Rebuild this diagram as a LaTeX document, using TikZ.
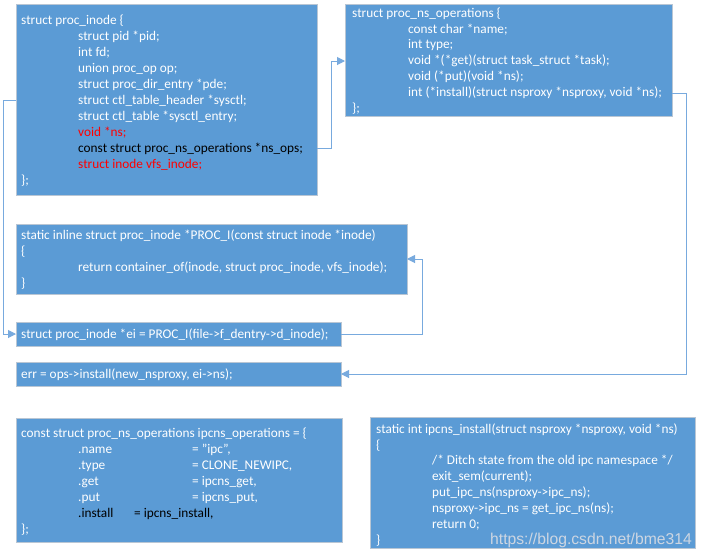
\documentclass[tikz,border=0pt]{standalone}
\usepackage{fontspec}
\setmainfont{Carlito}
\newfontfamily\wmfont{Liberation Sans}
\usetikzlibrary{arrows.meta}
\definecolor{boxblue}{RGB}{91,155,213}
\definecolor{boxedge}{RGB}{185,198,212}
\definecolor{connblue}{RGB}{120,170,222}
\definecolor{wmgray}{RGB}{205,214,226}
\definecolor{codered}{RGB}{255,0,0}
\newcommand\codeind{\hspace*{57pt}}
\newcommand\firststrut{\rule{0pt}{12pt}}
\begin{document}
\begin{tikzpicture}[x=1pt,y=-1pt,
  codebox/.style={draw=boxedge, line width=0.8pt, fill=boxblue, anchor=north west, inner sep=0pt, outer sep=0pt},
  codetext/.style={anchor=north west, inner sep=0pt, align=left, text=white, font={\fontsize{13.3}{16}\selectfont}},
  conn/.style={draw=connblue, line width=1pt, -{Triangle[length=8pt,width=8pt]}}]
\useasboundingbox (0,0) rectangle (702,558);
\fill[white] (0,0) rectangle (702,558);
% boxes
\node[codebox, minimum width=301pt, minimum height=191pt] (b1) at (16,4) {};
\node[codebox, minimum width=327pt, minimum height=112pt] (b2) at (345,4) {};
\node[codebox, minimum width=391pt, minimum height=70pt] (b3) at (16,224) {};
\node[codebox, minimum width=325pt, minimum height=24pt] (b4) at (16,322) {};
\node[codebox, minimum width=325pt, minimum height=24pt] (b5) at (16,362) {};
\node[codebox, minimum width=326pt, minimum height=124pt] (b6) at (16,418) {};
\node[codebox, minimum width=325pt, minimum height=131pt] (b7) at (370,417) {};
% texts
\node[codetext] (t1) at (21,12) {\firststrut struct proc\_inode \{\\
\codeind struct pid *pid;\\
\codeind int fd;\\
\codeind union proc\_op op;\\
\codeind struct proc\_dir\_entry *pde;\\
\codeind struct ctl\_table\_header *sysctl;\\
\codeind struct ctl\_table *sysctl\_entry;\\
\codeind {\color{codered}void *ns;}\\
\codeind {\color{black}const struct proc\_ns\_operations *ns\_ops;}\\
\codeind {\color{codered}struct inode vfs\_inode;}\\
\};};
\node[codetext, font={\fontsize{13.3}{15.85}\selectfont}] (t2) at (352,5) {\firststrut struct proc\_ns\_operations \{\\
\hspace*{56pt}const char *name;\\
\hspace*{56pt}int type;\\
\hspace*{56pt}void *(*get)(struct task\_struct *task);\\
\hspace*{56pt}void (*put)(void *ns);\\
\hspace*{56pt}int (*install)(struct nsproxy *nsproxy, void *ns);\\
\};};
\node[codetext] (t3) at (21,227) {\firststrut static inline struct proc\_inode *PROC\_I(const struct inode *inode)\\
\{\\
\codeind return container\_of(inode, struct proc\_inode, vfs\_inode);\\
\}};
\node[codetext] (t4) at (21,326) {\firststrut struct proc\_inode *ei = PROC\_I(file->f\_dentry->d\_inode);};
\node[codetext] (t5) at (21,366) {\firststrut err = ops->install(new\_nsproxy, ei->ns);};
\node[codetext] (t6) at (21,425) {\firststrut const struct proc\_ns\_operations ipcns\_operations = \{\\
\codeind\makebox[114pt][l]{.name}= "ipc",\\
\codeind\makebox[114pt][l]{.type}= CLONE\_NEWIPC,\\
\codeind\makebox[114pt][l]{.get}= ipcns\_get,\\
\codeind\makebox[114pt][l]{.put}= ipcns\_put,\\
\codeind{\color{black}\makebox[56pt][l]{.install}= ipcns\_install,}\\
\};};
\node[codetext, font={\fontsize{13.3}{15.85}\selectfont}] (t7) at (376,421) {\firststrut static int ipcns\_install(struct nsproxy *nsproxy, void *ns)\\
\{\\
\hspace*{56pt}/* Ditch state from the old ipc namespace */\\
\hspace*{56pt}exit\_sem(current);\\
\hspace*{56pt}put\_ipc\_ns(nsproxy->ipc\_ns);\\
\hspace*{56pt}nsproxy->ipc\_ns = get\_ipc\_ns(ns);\\
\hspace*{56pt}return 0;\\
\}};
\node[anchor=base west, inner sep=0pt, text=wmgray, font={\wmfont\fontsize{15.7}{18}\selectfont}] (wm) at (490,544) {https://blog.csdn.net/bme314};
% connectors
\draw[conn] (b1.west |- 0,100) -- (3,100) |- (b4.west);
\draw[conn] (b1.east |- 0,148) -- (331,148) |- (b2.west |- 0,61);
\draw[conn] (b2.east |- 0,93) -- (686,93) |- (b5.east);
\draw[conn] (b4.east) -- (422,334) |- (b3.east);
\end{tikzpicture}
\end{document}
